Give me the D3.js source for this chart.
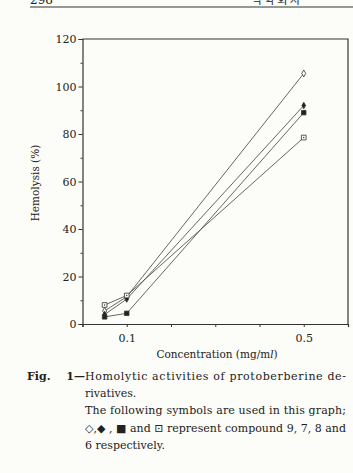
<!DOCTYPE html>
<html>
<head>
<meta charset="utf-8">
<script src="https://cdn.jsdelivr.net/npm/d3@7"></script>
<style>
  body { margin: 0; background: #fcfcf9; }
  svg { display: block; }
  text { font-family: "DejaVu Serif", "Liberation Serif", serif; fill: #222; }
</style>
</head>
<body>
<div id="chart"></div>
<script>
// concentrations (mg/ml)
var conc = [0.05, 0.1, 0.5];
// hemolysis (%) per compound
var cpd9 = [5.5, 11.5, 105.5];
var cpd7 = [4, 10.5, 92];
var cpd8 = [3, 4.5, 89];
var cpd6 = [8, 12, 78.5];
var yTicks = [0, 20, 40, 60, 80, 100, 120];
var xLabels = [0.1, 0.5];

(function(){

  var width = 353, height = 473;

  var svg = d3.select("#chart").append("svg")
    .attr("width", width)
    .attr("height", height);

  // running header of the journal page (cut at the top, as on the scan)
  svg.append("text").attr("x", 30).attr("y", 4)
    .attr("font-size", "12px").text("298");
  svg.append("text").attr("x", 252).attr("y", 4)
    .attr("font-size", "11px")
    .style("font-family", "'Noto Sans CJK KR'")
    .text("약 학 회 지");
  svg.append("line")
    .attr("x1", 30).attr("x2", 353).attr("y1", 7).attr("y2", 7)
    .attr("stroke", "#333").attr("stroke-width", 1);

  var x = d3.scaleLinear().domain([0, 0.6]).range([82.5, 348]);
  var y = d3.scaleLinear().domain([0, 120]).range([324, 39]);

  var g = svg.append("g");

  // frame top and right
  g.append("path")
    .attr("d", "M" + x(0) + "," + y(120) + "H" + x(0.6) + "V" + y(0))
    .attr("fill", "none").attr("stroke", "#333").attr("stroke-width", 1.2);

  // y axis, major and minor ticks
  g.append("g")
    .attr("transform", "translate(" + x(0) + ",0)")
    .call(d3.axisLeft(y).tickValues(yTicks).tickSize(4).tickPadding(2));
  g.append("g")
    .attr("transform", "translate(" + x(0) + ",0)")
    .call(d3.axisLeft(y).tickValues(d3.range(10, 120, 20)).tickSize(2).tickFormat(""))
    .call(function(s){ s.select(".domain").remove(); });

  // x axis
  g.append("g")
    .attr("transform", "translate(0," + y(0) + ")")
    .call(d3.axisBottom(x).tickValues(d3.range(0, 0.61, 0.1)).tickSize(3).tickPadding(7)
      .tickFormat(function(d){
        var r = Math.round(d * 10) / 10;
        return xLabels.indexOf(r) >= 0 ? r : "";
      }));

  g.selectAll(".domain").attr("stroke", "#333").attr("stroke-width", 1.2);
  g.selectAll(".tick line").attr("stroke", "#333");
  g.selectAll(".tick text")
    .attr("font-family", "DejaVu Serif, serif")
    .attr("font-size", "11px").attr("fill", "#222");

  // axis titles
  svg.append("text")
    .attr("transform", "translate(39,183) rotate(-90)")
    .attr("text-anchor", "middle")
    .attr("font-size", "10.5px")
    .text("Hemolysis (%)");

  var xt = svg.append("text")
    .attr("x", 217).attr("y", 358)
    .attr("text-anchor", "middle")
    .attr("font-size", "10.5px");
  xt.append("tspan").text("Concentration (mg/m");
  xt.append("tspan").attr("font-style", "italic").text("l");
  xt.append("tspan").text(")");

  // series
  var series = [
    {name: "9", values: cpd9, shape: d3.symbolDiamond, size: 14, fill: "#fcfcf9"},
    {name: "7", values: cpd7, shape: d3.symbolDiamond, size: 12, fill: "#222"},
    {name: "8", values: cpd8, shape: d3.symbolSquare, size: 20, fill: "#222"},
    {name: "6", values: cpd6, shape: d3.symbolSquare, size: 22, fill: "#fcfcf9", dot: true}
  ];

  var line = d3.line()
    .x(function(d){ return x(d[0]); })
    .y(function(d){ return y(d[1]); });

  series.forEach(function(s){
    var pts = conc.map(function(c, i){ return [c, s.values[i]]; });
    g.append("path")
      .datum(pts)
      .attr("d", line)
      .attr("fill", "none")
      .attr("stroke", "#555")
      .attr("stroke-width", 0.9);
  });

  series.forEach(function(s){
    var pts = conc.map(function(c, i){ return [c, s.values[i]]; });
    g.selectAll(null)
      .data(pts)
      .enter()
      .append("path")
        .attr("transform", function(d){ return "translate(" + x(d[0]) + "," + y(d[1]) + ")"; })
        .attr("d", d3.symbol().type(s.shape).size(s.size))
        .attr("fill", s.fill)
        .attr("stroke", "#333")
        .attr("stroke-width", 0.8);
    if (s.dot) {
      g.selectAll(null)
        .data(pts)
        .enter()
        .append("circle")
          .attr("cx", function(d){ return x(d[0]); })
          .attr("cy", function(d){ return y(d[1]); })
          .attr("r", 0.7)
          .attr("fill", "#333");
    }
  });

  // caption
  var cap = svg.append("g").attr("font-size", "11px");
  cap.append("text").attr("x", 27).attr("y", 380)
    .attr("font-weight", "bold").text("Fig.");
  cap.append("text").attr("x", 85).attr("y", 380)
    .attr("text-anchor", "end")
    .attr("font-weight", "bold").text("1—");
  cap.append("text").attr("x", 85).attr("y", 380)
    .attr("textLength", 261).attr("lengthAdjust", "spacing")
    .text("Homolytic activities of protoberberine de-");
  cap.append("text").attr("x", 85).attr("y", 397)
    .text("rivatives.");
  cap.append("text").attr("x", 85).attr("y", 414)
    .attr("textLength", 261).attr("lengthAdjust", "spacing")
    .text("The following symbols are used in this graph;");
  cap.append("text").attr("x", 85).attr("y", 432)
    .attr("textLength", 261).attr("lengthAdjust", "spacing")
    .text("\u25C7,\u25C6 , \u25A0 and \u22A1 represent compound 9, 7, 8 and");
  cap.append("text").attr("x", 85).attr("y", 449)
    .text("6 respectively.");

})();
</script>
</body>
</html>
